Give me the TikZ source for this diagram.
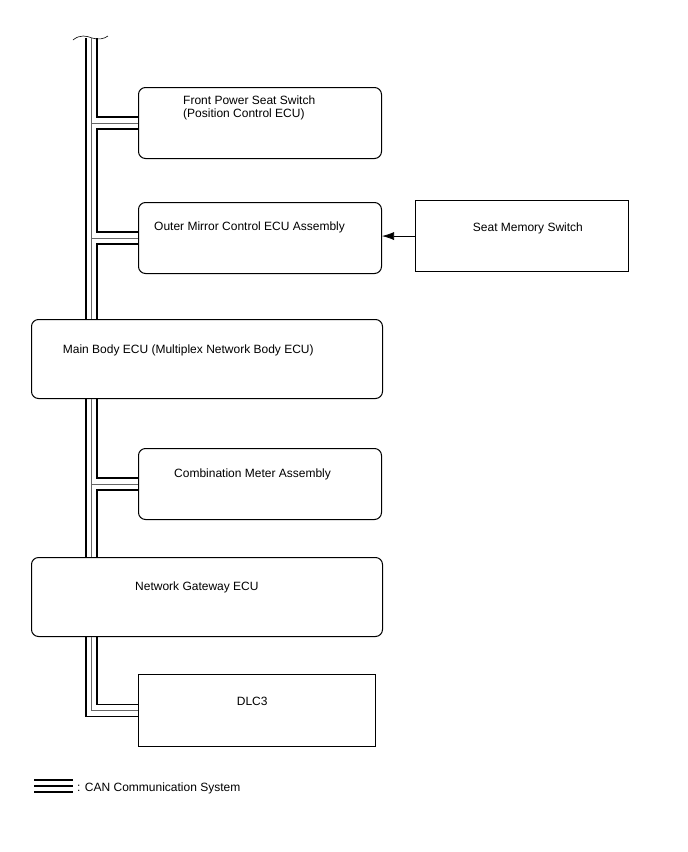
\documentclass[tikz,border=0pt]{standalone}
\usepackage{fontspec}
\setmainfont{Liberation Sans}
\usetikzlibrary{arrows.meta}
\begin{document}
\begin{tikzpicture}[x=1pt,y=-1pt,
  ecu/.style={draw,line width=1pt,rounded corners=7pt,anchor=north west,inner sep=0},
  plainbox/.style={draw,line width=1.1pt,anchor=north west,inner sep=0},
  txt/.style={inner sep=0,anchor=base west,font=\fontsize{12}{13.5}\selectfont},
  canblk/.style={line width=1.7pt},
  cangry/.style={line width=0.9pt,black!60}]
\useasboundingbox (0,0) rectangle (688,852);
% boxes
\node[ecu,minimum width=243pt,minimum height=71pt] (fps) at (138,87) {};
\node[ecu,minimum width=243pt,minimum height=71pt] (om) at (138,202) {};
\node[plainbox,minimum width=213pt,minimum height=71pt] (sms) at (415,200) {};
\node[ecu,minimum width=351pt,minimum height=79pt] (main) at (31,319) {};
\node[ecu,minimum width=243pt,minimum height=71pt] (comb) at (138,448) {};
\node[ecu,minimum width=351pt,minimum height=79pt] (gw) at (31,557) {};
\node[plainbox,minimum width=237pt,minimum height=72pt] (dlc) at (138,674) {};
% texts
\node[txt,anchor=north west,align=left] (fpstxt) at (183,95.5) {Front Power Seat Switch\\(Position Control ECU)};
\node[txt] (omtxt) at (154,230.7) {Outer Mirror Control ECU Assembly};
\node[txt] (smstxt) at (472.7,231) {Seat Memory Switch};
\node[txt] (maintxt) at (62.7,353.3) {Main Body ECU (Multiplex Network Body ECU)};
\node[txt] (combtxt) at (174,477.5) {Combination Meter Assembly};
\node[txt] (gwtxt) at (135,590.7) {Network Gateway ECU};
\node[txt] (dlctxt) at (236.7,705) {DLC3};
\node[txt] (legtxt) at (77,791) {: CAN Communication System};
% CAN bus
\coordinate (busl) at (86,38);
\coordinate (busm) at (91.5,38);
\coordinate (busr) at (97,38);
\draw[line width=0.6pt] (73,40) .. controls (80,34) and (87,36) .. (92,38) .. controls (98,40) and (104,39) .. (108,36);
\draw[canblk] (busl) -- (busl |- main.north);
\draw[cangry] (busm) -- (busm |- main.north) (busm |- fps.west) -- (fps.west) (busm |- om.west) -- (om.west);
\draw[canblk] (busr) |- ([yshift=6pt]fps.west) ([yshift=-6pt]fps.west) -| ([xshift=-41pt,yshift=6pt]om.west) -- ([yshift=6pt]om.west) ([yshift=-6pt]om.west) -| (busr |- main.north);
\draw[canblk] (busl |- main.south) -- (busl |- gw.north);
\draw[cangry] (busm |- main.south) -- (busm |- gw.north) (busm |- comb.west) -- (comb.west);
\draw[canblk] (busr |- main.south) |- ([yshift=6pt]comb.west) ([yshift=-6pt]comb.west) -| (busr |- gw.north);
\draw[canblk] (busl |- gw.south) |- ([yshift=-6pt]dlc.west) (busr |- gw.south) |- ([yshift=6pt]dlc.west);
\draw[cangry] (busm |- gw.south) |- (dlc.west);
\draw[line width=0.7pt,-{Latex[length=12pt,width=8pt]}] (sms.west) -- (sms.west -| om.east);
% legend
\draw[canblk] (34,780) -- (72.7,780) (34,786) -- (72.7,786) (34,792) -- (72.7,792);
\end{tikzpicture}
\end{document}
